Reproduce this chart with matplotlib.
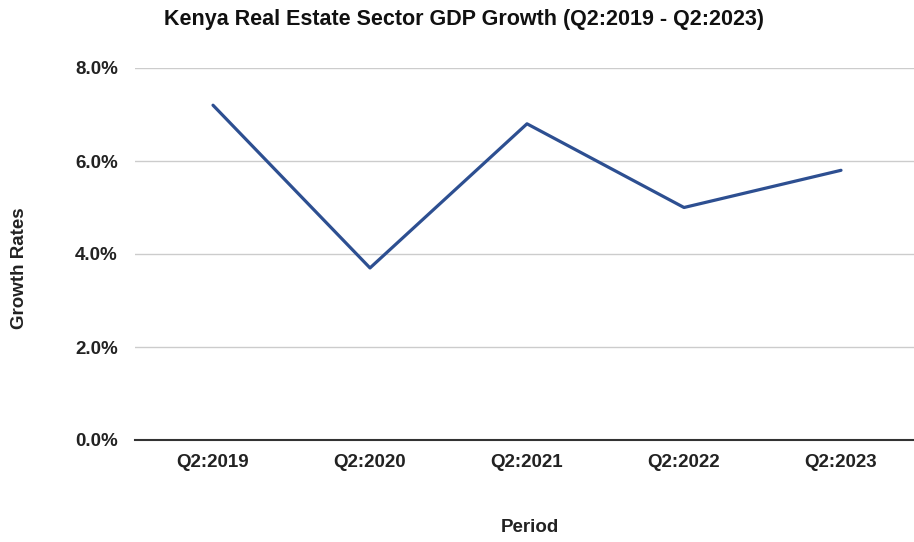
import matplotlib
matplotlib.use("Agg")
import matplotlib.pyplot as plt
from matplotlib.ticker import FuncFormatter

periods = ["Q2:2019", "Q2:2020", "Q2:2021", "Q2:2022", "Q2:2023"]
growth = [7.2, 3.7, 6.8, 5.0, 5.8]
yticks = [0, 2, 4, 6, 8]

plt.rcParams['font.family'] = ['Liberation Sans', 'DejaVu Sans']

fig = plt.figure(figsize=(9.14, 5.42), dpi=100)
ax = fig.add_axes([134.5/914, 1-440/542, 785/914, (440-68)/542])

ax.plot(range(len(periods)), growth, color="#2d4f91", lw=2.3, solid_capstyle='round')
ax.set_xlim(-0.5, len(periods)-0.5)
ax.set_ylim(0, 8)
ax.set_yticks(yticks)
ax.yaxis.set_major_formatter(FuncFormatter(lambda v, p: f"{v:.1f}%"))
ax.set_xticks(range(len(periods)))
ax.set_xticklabels(periods)
for lab in ax.get_xticklabels() + ax.get_yticklabels():
    lab.set_fontweight('bold')
    lab.set_fontsize(13.5)
    lab.set_color('#222222')
ax.tick_params(axis='both', length=0)
ax.tick_params(axis='y', pad=12)
ax.tick_params(axis='x', pad=10)
ax.grid(axis='y', color='#cccccc', lw=1)
ax.set_axisbelow(True)
for s in ['top', 'right', 'left']:
    ax.spines[s].set_visible(False)
ax.spines['bottom'].set_color('#333333')
ax.spines['bottom'].set_linewidth(1.5)
ax.spines['bottom'].set_zorder(3)

fig.text(20/914, 1-268/542, "Growth Rates", rotation=90, ha='center', va='center',
         fontsize=13.5, fontweight='bold', color='#222222')
fig.text(530/914, 1-528/542, "Period", ha='center', va='center',
         fontsize=13.5, fontweight='bold', color='#222222')
fig.text(464/914, 1-20/542, "Kenya Real Estate Sector GDP Growth (Q2:2019 - Q2:2023)",
         ha='center', va='center', fontsize=15.5, fontweight='bold', color='#111111',
         family=['Liberation Sans Narrow', 'Liberation Sans', 'DejaVu Sans'])

fig.savefig("out.png", dpi=100)
